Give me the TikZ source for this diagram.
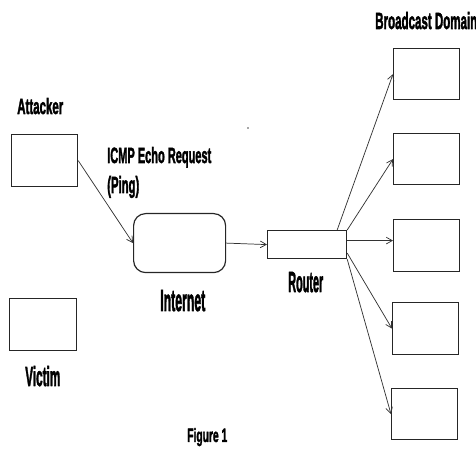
\documentclass[tikz,border=0pt]{standalone}
\usepackage{fontspec}
\usepackage{graphicx}
\setmainfont{Liberation Sans}
\newfontfamily\heavyface{Liberation Sans}[BoldFeatures={FakeBold=2.5}]
\usetikzlibrary{arrows.meta,calc}

% condensed heavy label: width, height above baseline (pt), text
\newcommand\condlbl[3]{\resizebox{#1pt}{#2pt}{\heavyface\bfseries #3}}

\begin{document}
\begin{tikzpicture}[x=0.75pt,y=-0.75pt,
  host/.style={draw=black!85,line width=0.9pt,inner sep=0pt,anchor=north west},
  cloudbox/.style={host,rounded corners=9pt},
  lbl/.style={inner sep=0pt,anchor=base west,text=black},
  link/.style={draw=black!80,line width=0.55pt,-{Straight Barb[length=4.5pt,width=5pt]}}]
  \useasboundingbox (0,0) rectangle (476,449);
  \clip (0,0) rectangle (476,449);

  % hosts and network elements
  \node[host,minimum width=66*0.75pt,minimum height=52*0.75pt] (attacker) at (11,134) {};
  \node[host,minimum width=67*0.75pt,minimum height=52*0.75pt] (victim) at (9,298) {};
  \node[cloudbox,minimum width=92*0.75pt,minimum height=59*0.75pt] (internet) at (133,213) {};
  \node[host,minimum width=79*0.75pt,minimum height=28*0.75pt] (router) at (267,230) {};
  \node[host,minimum width=66*0.75pt,minimum height=51*0.75pt] (b1) at (393,48) {};
  \node[host,minimum width=66*0.75pt,minimum height=51*0.75pt] (b2) at (393,133) {};
  \node[host,minimum width=66*0.75pt,minimum height=52*0.75pt] (b3) at (393,219) {};
  \node[host,minimum width=66*0.75pt,minimum height=52*0.75pt] (b4) at (392,302) {};
  \node[host,minimum width=66*0.75pt,minimum height=51*0.75pt] (b5) at (391,388) {};

  % labels
  \node[lbl] (lattacker) at (17,114) {\condlbl{34.5}{12}{Attacker}};
  \node[lbl] (licmp) at (107,163) {\condlbl{78}{12}{ICMP Echo Request}};
  \node[lbl] (lping) at (107,193) {\condlbl{24}{12.75}{(Ping)}};
  \node[lbl] (linternet) at (160,311) {\condlbl{33.75}{15.75}{Internet}};
  \node[lbl] (lrouter) at (288,292) {\condlbl{26.25}{15}{Router}};
  \node[lbl] (lvictim) at (25,386) {\condlbl{26.25}{15}{Victim}};
  \node[lbl] (lfig) at (187,442) {\condlbl{30}{10.5}{Figure 1}};
  \node[lbl] (lbcast) at (375,29) {\condlbl{76.5}{12.75}{Broadcast Domain}};

  % small speck
  \fill[black!70] (248,128) circle (0.6pt);

  % connectors
  \draw[link] (attacker.east) -- (internet.west);
  \draw[link] (internet.east) -- (router.west);
  \draw[link] ($(router.north west)!0.875!(router.north east)$) -- (b1.west);
  \draw[link] (router.north east) -- (b2.west);
  \draw[link] ([yshift=3pt]router.east) -- ([yshift=3.75pt]b3.west);
  \draw[link] ($(router.north east)!0.79!(router.south east)$) -- (b4.west);
  \draw[link] (router.south east) -- (b5.west);
\end{tikzpicture}
\end{document}
